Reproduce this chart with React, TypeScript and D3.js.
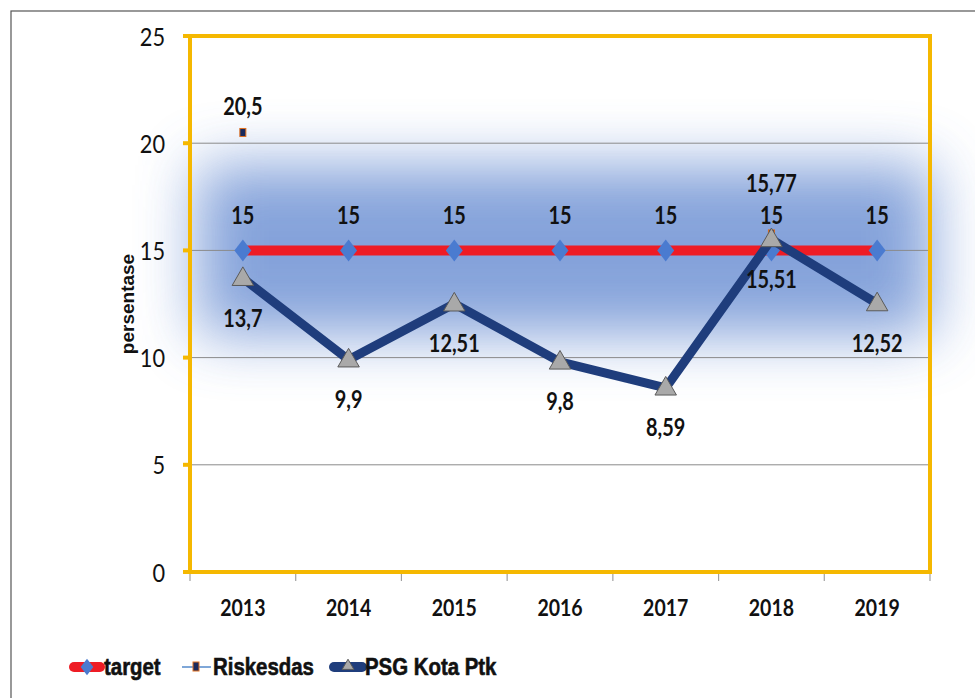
import * as d3 from "d3"

const years = ["2013", "2014", "2015", "2016", "2017", "2018", "2019"]
const targetValues = [15, 15, 15, 15, 15, 15, 15]
const riskesdasValues: (number | null)[] = [20.5, null, null, null, null, 15.77, null]
const psgValues = [13.7, 9.9, 12.51, 9.8, 8.59, 15.51, 12.52]
const yTicks = [0, 5, 10, 15, 20, 25]
const gridValues = [5, 10, 15, 20]

const W = 975
const H = 698
const M = { left: 190, right: 930, top: 36, bottom: 572 }

const fmt = (v: number) => String(v).replace(".", ",")

const LABEL_FONT = "Lato, 'Open Sans', sans-serif"
const ARIAL = "'Liberation Sans', Arial, sans-serif"

// text squeezed horizontally, to look like the narrow office font
const Narrow = ({
  x,
  y,
  sx = 0.83,
  anchor = "middle",
  size = 24,
  weight = "bold",
  family = LABEL_FONT,
  heavy = 0,
  children,
}: {
  x: number
  y: number
  sx?: number
  anchor?: string
  size?: number
  weight?: string
  family?: string
  heavy?: number
  children: any
}) => (
  <text
    transform={`translate(${x},${y}) scale(${sx},1)`}
    textAnchor={anchor}
    dominantBaseline="central"
    fontFamily={family}
    fontWeight={weight}
    fontSize={size}
    fill="#111"
    stroke={heavy ? "#111" : "none"}
    strokeWidth={heavy}
  >
    {children}
  </text>
)

const App = () => {
  const x = d3.scaleBand<string>().domain(years).range([M.left, M.right])
  const y = d3.scaleLinear().domain([0, 25]).range([M.bottom, M.top])
  const cx = (d: string) => (x(d) ?? 0) + x.bandwidth() / 2

  const lineGen = d3
    .line<number>()
    .x((_, i) => cx(years[i]))
    .y((d) => y(d))

  const tri = d3.symbol().type(d3.symbolTriangle).size(200)
  const triSmall = d3.symbol().type(d3.symbolTriangle).size(60)
  const diamond = (px: number, py: number, s = 1) =>
    `M${px},${py - 11 * s}L${px + 8.5 * s},${py}L${px},${py + 11 * s}L${px - 8.5 * s},${py}Z`

  const yellow = "#f5b800"
  const navy = "#1f3d7c"

  return (
    <svg
      width={W}
      height={H}
      style={{ position: "absolute", left: 0, top: 0, background: "#fff" }}
    >
      <defs>
        <filter id="glow" x="-50%" y="-100%" width="200%" height="300%">
          <feGaussianBlur stdDeviation="30" />
        </filter>
      </defs>
      <rect x={11} y={11} width={W} height={H} fill="#fff" stroke="#555" strokeWidth={1.2} />

      {/* glow behind target series */}
      <rect
        x={cx(years[0]) - 45}
        y={y(15) - 85}
        width={cx(years[6]) - cx(years[0]) + 100}
        height={170}
        fill="#6389d0"
        opacity={0.78}
        filter="url(#glow)"
      />

      {/* gridlines */}
      {gridValues.map((g) => (
        <line
          key={g}
          x1={M.left}
          x2={M.right}
          y1={y(g)}
          y2={y(g)}
          stroke="#8a8a8a"
          strokeWidth={1}
        />
      ))}

      {/* x category ticks */}
      {d3.range(years.length + 1).map((i) => {
        const px = M.left + i * x.bandwidth()
        return (
          <line key={i} x1={px} x2={px} y1={M.bottom + 2} y2={M.bottom + 9} stroke="#a0a0a0" strokeWidth={1.2} />
        )
      })}

      {/* plot frame */}
      <rect
        x={M.left}
        y={M.top}
        width={M.right - M.left}
        height={M.bottom - M.top}
        fill="none"
        stroke={yellow}
        strokeWidth={4}
      />
      {yTicks.map((t) => (
        <line key={t} x1={M.left - 7} x2={M.left} y1={y(t)} y2={y(t)} stroke={yellow} strokeWidth={4} />
      ))}

      {/* y tick labels */}
      {yTicks.map((t) => (
        <Narrow key={t} x={165} y={y(t)} anchor="end" size={25} weight="normal" sx={0.87}>
          {t}
        </Narrow>
      ))}

      {/* x labels */}
      {years.map((yr) => (
        <Narrow key={yr} x={cx(yr)} y={607} size={23.5}>
          {yr}
        </Narrow>
      ))}

      {/* y axis title */}
      <text
        transform={`translate(127, ${(M.top + M.bottom) / 2}) rotate(-90)`}
        textAnchor="middle"
        dominantBaseline="central"
        fontFamily={ARIAL}
        fontWeight="bold"
        fontSize={19}
        fill="#111"
      >
        persentase
      </text>

      {/* target line */}
      <path d={lineGen(targetValues) ?? ""} fill="none" stroke="#ee1c25" strokeWidth={10} />
      {targetValues.map((v, i) => (
        <path key={i} d={diamond(cx(years[i]), y(v))} fill="#4a7bd0" />
      ))}

      {/* riskesdas markers */}
      {riskesdasValues.map((v, i) =>
        v == null ? null : (
          <rect
            key={i}
            x={cx(years[i]) - 3}
            y={y(v) - 4}
            width={6}
            height={8}
            fill="#1a2a5e"
            stroke="#e07020"
            strokeWidth={1}
          />
        ),
      )}

      {/* PSG line */}
      <path
        d={lineGen(psgValues) ?? ""}
        fill="none"
        stroke={navy}
        strokeWidth={9}
        strokeLinejoin="round"
      />
      {psgValues.map((v, i) => (
        <path
          key={i}
          d={tri() ?? ""}
          transform={`translate(${cx(years[i])}, ${y(v) + 1})`}
          fill="#a9a9a9"
          stroke="#5a5a5a"
          strokeWidth={1}
        />
      ))}

      {/* data labels */}
      {targetValues.map((v, i) => (
        <Narrow key={i} x={cx(years[i])} y={y(v) - 36}>
          {fmt(v)}
        </Narrow>
      ))}
      {riskesdasValues.map((v, i) =>
        v == null ? null : (
          <Narrow key={i} x={cx(years[i])} y={y(v) - (i === 0 ? 27 : 51)}>
            {fmt(v)}
          </Narrow>
        ),
      )}
      {psgValues.map((v, i) => (
        <Narrow key={i} x={cx(years[i])} y={y(v) + 39}>
          {fmt(v)}
        </Narrow>
      ))}

      {/* legend */}
      <line x1={74} x2={100} y1={667} y2={667} stroke="#ee1c25" strokeWidth={10} strokeLinecap="round" />
      <path d={diamond(87, 667, 0.75)} fill="#4a7bd0" />
      <Narrow x={104} y={667} anchor="start" family={ARIAL} size={24} sx={0.85} heavy={0.6}>
        target
      </Narrow>

      <line x1={182} x2={211} y1={667} y2={667} stroke="#7fa7d8" strokeWidth={2} />
      <rect x={193} y={662} width={6} height={9} fill="#1a2a5e" stroke="#e07020" strokeWidth={1} />
      <Narrow x={213} y={667} anchor="start" family={ARIAL} size={24} sx={0.85} heavy={0.6}>
        Riskesdas
      </Narrow>

      <line x1={334} x2={362} y1={667} y2={667} stroke={navy} strokeWidth={10} strokeLinecap="round" />
      <path d={triSmall() ?? ""} transform="translate(348,666)" fill="#a9a9a9" stroke="#5a5a5a" strokeWidth={1} />
      <Narrow x={365} y={667} anchor="start" family={ARIAL} size={24} sx={0.85} heavy={0.6}>
        PSG Kota Ptk
      </Narrow>
    </svg>
  )
}

export default App
